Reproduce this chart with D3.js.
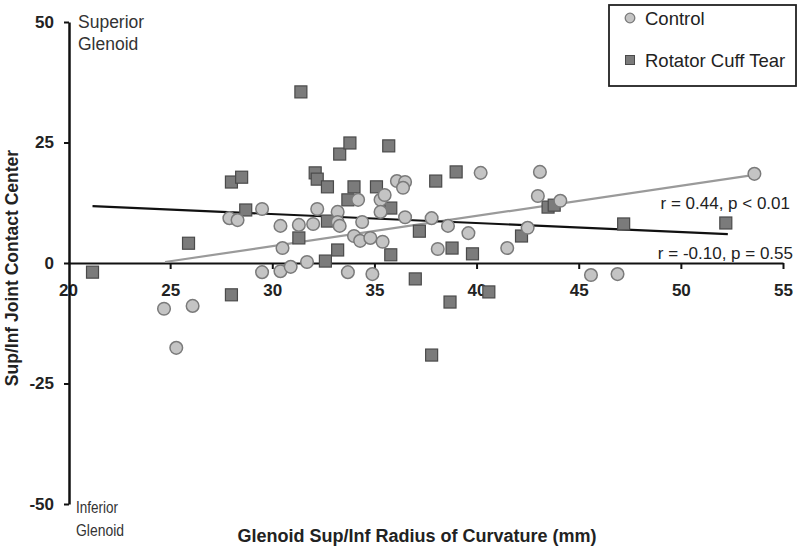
<!DOCTYPE html>
<html lang="en">
<head>
    <meta charset="UTF-8">
    <title>Glenoid Radius of Curvature vs Contact Center</title>
    <script src="https://d3js.org/d3.v7.min.js"></script>
    <style>
        body { margin: 0; background: #fff; }
        svg { display: block; font-family: Arial, "Liberation Sans", sans-serif; }
        .tick-label { font-size: 17px; font-weight: bold; fill: #222; }
        .axis-title { font-weight: bold; fill: #222; }
        .note { font-size: 17px; fill: #222; }
    </style>
</head>
<body>
    <div id="chart"></div>
    <script>
        // Control group: [radius of curvature (mm), contact center]
        const control = [
            [24.7, -9.5], [26.1, -8.9], [25.3, -17.6], [27.9, 9.3], [28.3, 8.9],
            [29.5, 11.2], [29.5, -1.9], [30.4, -1.7], [30.9, -0.8], [30.5, 3.1],
            [30.4, 7.7], [31.3, 7.9], [31.7, 0.2], [32.0, 8.1], [32.2, 11.2],
            [33.2, 10.6], [33.2, 8.5], [33.3, 7.7], [33.7, -1.9], [34.2, 13.1],
            [34.0, 5.6], [34.3, 4.6], [34.4, 8.5], [34.8, 5.2], [35.4, 4.4],
            [34.9, -2.3], [35.3, 13.1], [35.5, 14.1], [35.3, 10.6], [36.1, 17.0],
            [36.5, 16.8], [36.4, 15.6], [36.5, 9.5], [37.8, 9.3], [38.1, 2.9],
            [38.6, 7.7], [39.6, 6.2], [40.2, 18.7], [41.5, 3.1], [42.5, 7.3],
            [43.0, 13.9], [43.1, 18.9], [44.1, 12.9], [45.6, -2.5], [46.9, -2.3],
            [53.6, 18.5]
        ];

        // Rotator cuff tear group
        const tear = [
            [21.2, -1.9], [25.9, 4.1], [28.0, -6.6], [28.0, 16.8], [28.5, 17.8],
            [28.7, 11.0], [31.4, 35.5], [32.1, 18.7], [32.2, 17.4], [32.7, 15.8],
            [32.7, 8.7], [31.3, 5.2], [32.6, 0.4], [33.2, 2.7], [33.3, 22.6],
            [33.8, 24.9], [33.7, 13.1], [34.0, 15.8], [35.1, 15.8], [35.7, 24.3],
            [35.8, 11.4], [35.8, 1.7], [37.2, 6.6], [37.0, -3.3], [38.0, 17.0],
            [37.8, -19.1], [38.7, -8.1], [38.8, 3.1], [39.0, 18.9], [39.8, 1.9],
            [40.6, -6.0], [42.2, 5.6], [43.5, 11.6], [43.8, 12.0], [47.2, 8.1],
            [52.2, 8.3]
        ];

        // fitted trend lines, endpoints
        const controlFit = [[24.75, 0.2], [53.6, 18.3]];
        const tearFit = [[21.2, 11.8], [52.3, 6.0]];

        const xTicks = [20, 25, 30, 35, 40, 45, 50, 55];
        const yTicks = [-50, -25, 0, 25, 50];

        const width = 800, height = 549;

        const svg = d3.select("#chart").append("svg")
            .attr("width", width)
            .attr("height", height);

        const x = d3.scaleLinear().domain([20, 55]).range([68, 783]);
        const y = d3.scaleLinear().domain([-50, 50]).range([504, 22]);

        // x axis through y = 0
        const xAxis = svg.append("g")
            .attr("transform", `translate(0,${y(0)})`)
            .call(d3.axisBottom(x).tickValues(xTicks).tickSize(6).tickPadding(15).tickSizeOuter(0));
        xAxis.select(".domain").attr("stroke", "#111").attr("stroke-width", 2.2);
        xAxis.selectAll(".tick line").attr("stroke", "#111").attr("stroke-width", 2);
        xAxis.selectAll(".tick text").attr("class", "tick-label").attr("fill", "#222");
        xAxis.selectAll(".tick").filter(d => d === 20).select("line").remove();

        // y axis
        const yAxis = svg.append("g")
            .attr("transform", `translate(${x(20) + 1},0)`)
            .call(d3.axisLeft(y).tickValues(yTicks).tickFormat(d => String(d))
                .tickSize(5).tickPadding(10).tickSizeOuter(0));
        yAxis.select(".domain").attr("stroke", "#111").attr("stroke-width", 2.5);
        yAxis.selectAll(".tick line").attr("stroke", "#111").attr("stroke-width", 2);
        yAxis.selectAll(".tick text").attr("class", "tick-label").attr("fill", "#222");

        // end annotations on y axis
        const ends = svg.append("g").attr("fill", "#333");
        ends.append("text").attr("x", 78).attr("y", 28).attr("font-size", 17.5).text("Superior");
        ends.append("text").attr("x", 78).attr("y", 50).attr("font-size", 17.5).text("Glenoid");
        ends.append("text").attr("x", 76).attr("y", 513)
            .attr("font-size", 16).attr("textLength", 42).attr("lengthAdjust", "spacingAndGlyphs").text("Inferior");
        ends.append("text").attr("x", 76).attr("y", 536)
            .attr("font-size", 16).attr("textLength", 48).attr("lengthAdjust", "spacingAndGlyphs").text("Glenoid");

        // trend lines
        const line = d3.line().x(d => x(d[0])).y(d => y(d[1]));
        svg.append("path").datum(controlFit)
            .attr("d", line).attr("stroke", "#9a9a9a").attr("stroke-width", 2.2).attr("fill", "none");
        svg.append("path").datum(tearFit)
            .attr("d", line).attr("stroke", "#111").attr("stroke-width", 2.2).attr("fill", "none");

        // points
        const sq = 12;
        svg.append("g").selectAll("rect")
            .data(tear)
            .join("rect")
            .attr("x", d => x(d[0]) - sq / 2)
            .attr("y", d => y(d[1]) - sq / 2)
            .attr("width", sq).attr("height", sq)
            .attr("fill", "#7b7b7b")
            .attr("stroke", "#4a4a4a")
            .attr("stroke-width", 1.2);

        svg.append("g").selectAll("circle")
            .data(control)
            .join("circle")
            .attr("cx", d => x(d[0]))
            .attr("cy", d => y(d[1]))
            .attr("r", 6.3)
            .attr("fill", "#c4c4c4")
            .attr("stroke", "#7a7a7a")
            .attr("stroke-width", 1.5);

        // correlation notes
        svg.append("text").attr("class", "note")
            .attr("x", 790).attr("y", 209).attr("text-anchor", "end")
            .text("r = 0.44, p < 0.01");
        svg.append("text").attr("class", "note")
            .attr("x", 793).attr("y", 259).attr("text-anchor", "end")
            .text("r = -0.10, p = 0.55");

        // legend
        const legend = svg.append("g");
        legend.append("rect")
            .attr("x", 609).attr("y", 5).attr("width", 187).attr("height", 81)
            .attr("fill", "#fff").attr("stroke", "#222").attr("stroke-width", 1.8);
        legend.append("circle")
            .attr("cx", 630).attr("cy", 18).attr("r", 4.8)
            .attr("fill", "#c4c4c4").attr("stroke", "#7a7a7a").attr("stroke-width", 1.3);
        legend.append("text").attr("x", 645).attr("y", 25)
            .attr("font-size", 18.5).attr("fill", "#222").text("Control");
        legend.append("rect")
            .attr("x", 625.5).attr("y", 55.5).attr("width", 9).attr("height", 9)
            .attr("fill", "#7b7b7b").attr("stroke", "#4a4a4a").attr("stroke-width", 1);
        legend.append("text").attr("x", 645).attr("y", 67)
            .attr("font-size", 18.5).attr("fill", "#222").text("Rotator Cuff Tear");

        // axis titles
        svg.append("text").attr("class", "axis-title")
            .attr("x", 417).attr("y", 542).attr("text-anchor", "middle")
            .attr("font-size", 18)
            .text("Glenoid Sup/Inf Radius of Curvature (mm)");
        svg.append("text").attr("class", "axis-title")
            .attr("transform", `translate(18,268) rotate(-90)`)
            .attr("text-anchor", "middle")
            .attr("font-size", 17.5)
            .text("Sup/Inf Joint Contact Center");
    </script>
</body>
</html>
